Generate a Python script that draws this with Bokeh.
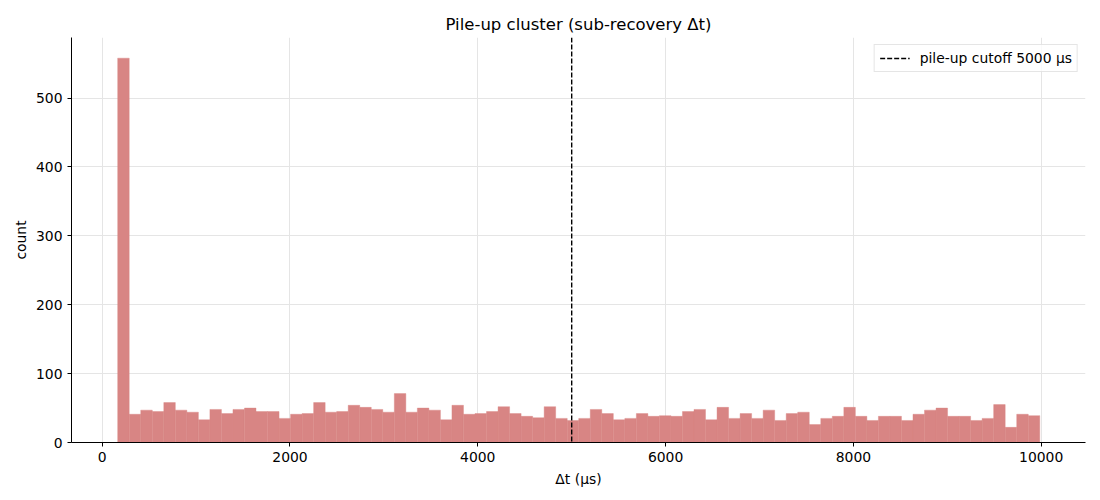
import numpy as np
from bokeh.plotting import figure
from bokeh.models import FixedTicker, Range1d, Legend, LegendItem
from bokeh.embed import file_html
from bokeh.resources import INLINE

# ---- data ----
dt_lo = 165.0
dt_hi = 9985.0
counts = [558, 41, 47, 45, 58, 47, 44, 33, 48, 42,
          48, 50, 45, 45, 35, 41, 42, 58, 44, 45,
          54, 51, 48, 44, 71, 44, 50, 47, 33, 54,
          41, 42, 45, 52, 42, 38, 36, 52, 35, 32,
          35, 48, 42, 33, 35, 42, 38, 39, 38, 45,
          48, 33, 51, 35, 42, 35, 47, 32, 42, 44,
          26, 35, 38, 51, 38, 32, 38, 38, 32, 41,
          47, 50, 38, 38, 32, 35, 55, 22, 41, 39]
cutoff = 5000
x_ticks = [0, 2000, 4000, 6000, 8000, 10000]
y_ticks = [0, 100, 200, 300, 400, 500]
title = "Pile-up cluster (sub-recovery Δt)"
x_label = "Δt (µs)"
y_label = "count"
legend_label = "pile-up cutoff 5000 µs"

edges = np.linspace(dt_lo, dt_hi, len(counts) + 1)
FONT = "DejaVu Sans"
BAR = "#d88584"

p = figure(width=1090, height=490, output_backend="svg", toolbar_location=None,
           x_range=Range1d(-327, 10472), y_range=Range1d(0, 588),
           min_border_left=71, min_border_right=5, min_border_top=37, min_border_bottom=48)

p.title.text = title
p.title.align = "center"
p.title.text_font = FONT
p.title.text_font_size = "16.5px"
p.title.text_font_style = "normal"
p.title.text_color = "#000000"
p.title.offset = 0
p.title.standoff = 7

p.quad(left=edges[:-1], right=edges[1:], top=counts, bottom=0,
       fill_color=BAR, line_color=BAR, line_width=0.4)

cut = p.line(x=[cutoff, cutoff], y=[-100, 2000], line_color="black",
             line_width=1.4, line_dash="5 2")

legend = Legend(items=[LegendItem(label=legend_label, renderers=[cut])],
                location="top_right")
legend.label_text_font = FONT
legend.label_text_font_size = "13.9px"
legend.label_text_color = "black"
legend.border_line_color = "#cccccc"
legend.border_line_width = 1
legend.background_fill_alpha = 0.8
legend.margin = 7
legend.padding = 5
legend.glyph_width = 30
legend.glyph_height = 14
legend.label_standoff = 10
legend.spacing = 0
p.add_layout(legend)

p.xaxis.ticker = FixedTicker(ticks=x_ticks)
p.yaxis.ticker = FixedTicker(ticks=y_ticks)
p.xaxis.axis_label = x_label
p.yaxis.axis_label = y_label
for ax in (p.xaxis, p.yaxis):
    ax.axis_label_text_font = FONT
    ax.axis_label_text_font_size = "13.9px"
    ax.axis_label_text_font_style = "normal"
    ax.axis_label_text_color = "black"
    ax.major_label_text_font = FONT
    ax.major_label_text_font_size = "13.9px"
    ax.major_label_text_color = "black"
    ax.major_tick_in = 0
    ax.major_tick_out = 4
    ax.minor_tick_line_color = None
    ax.axis_line_color = "black"
    ax.major_tick_line_color = "black"
p.xaxis.axis_label_standoff = 6
p.yaxis.axis_label_standoff = 4

p.xgrid.ticker = FixedTicker(ticks=x_ticks)
p.ygrid.ticker = FixedTicker(ticks=y_ticks)
p.grid.grid_line_color = "#e5e5e5"
p.grid.grid_line_width = 1
p.outline_line_color = None

open("out.html", "w").write(file_html(p, INLINE))
